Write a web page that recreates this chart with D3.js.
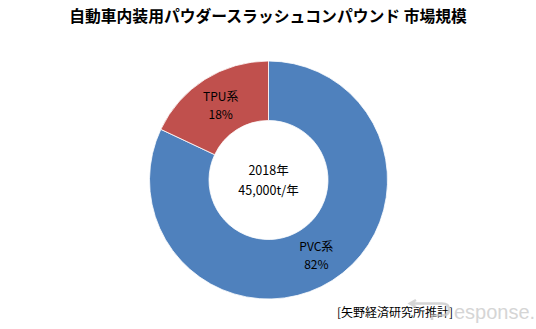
<!DOCTYPE html>
<html><head><meta charset="utf-8">
<script src="https://cdn.jsdelivr.net/npm/d3@7"></script>
<style>body{margin:0;background:#fff}svg{display:block}</style>
</head><body>
<script>
const categories = ["PVC系", "TPU系"];
const values = [82, 18];
const colors = ["#4F81BD", "#C0504D"];
const title = "自動車内装用パウダースラッシュコンパウンド 市場規模";
const centerLines = ["2018年", "45,000t/年"];
const source = "[矢野経済研究所推計]";

const W = 536, H = 329;
const svg = d3.select("body").append("svg").attr("width", W).attr("height", H);
const font = "'Noto Sans CJK JP', sans-serif";

svg.append("text").attr("x", 268).attr("y", 22).attr("text-anchor", "middle")
  .attr("font-family", font).attr("font-size", 15.8).attr("font-weight", "bold")
  .attr("fill", "#000").text(title);

const cx = 268.5, cy = 180, R = 119, r = 59.5;
const g = svg.append("g").attr("transform", `translate(${cx},${cy})`);
const pie = d3.pie().sort(null).value(d => d.v);
const data = pie(categories.map((c, i) => ({c, v: values[i], col: colors[i]})));
const arc = d3.arc().innerRadius(r).outerRadius(R);
g.selectAll("path").data(data).join("path")
  .attr("d", arc).attr("fill", d => d.data.col)
  .attr("stroke", "#fff").attr("stroke-width", 0.8);

data.forEach(d => {
  const [x, y] = arc.centroid(d);
  const t = g.append("text").attr("text-anchor", "middle")
    .attr("font-family", font).attr("font-size", 12).attr("fill", "#000");
  t.append("tspan").attr("x", x).attr("y", y - 4).text(d.data.c);
  t.append("tspan").attr("x", x).attr("y", y + 14).text(d.data.v + "%");
});

const ct = g.append("text").attr("text-anchor", "middle")
  .attr("font-family", font).attr("font-size", 12.5).attr("fill", "#000");
ct.append("tspan").attr("x", 0).attr("y", -5).text(centerLines[0]);
ct.append("tspan").attr("x", 0).attr("y", 15).text(centerLines[1]);

svg.append("text").attr("x", 337).attr("y", 317)
  .attr("font-family", font).attr("font-size", 12).attr("fill", "#000").text(source);

// watermark logo: stylised "R" arrow (graphic) + text
const wm = svg.append("g").attr("opacity", 0.75);
wm.append("path")
  .attr("d", "M416,300 L410,303.5 L416,307 M410.5,303.5 L442,303.5 Q449,303.5 449,309.5 Q449,315.5 442,315.5 L432,315.5 L432,320")
  .attr("fill", "none").attr("stroke", "#c8c8c8").attr("stroke-width", 2.6);
wm.append("text").attr("x", 454).attr("y", 319)
  .attr("font-family", "'Liberation Sans', Arial, sans-serif").attr("font-size", 20)
  .attr("fill", "#c8c8c8").text("esponse.");
</script>
</body></html>
